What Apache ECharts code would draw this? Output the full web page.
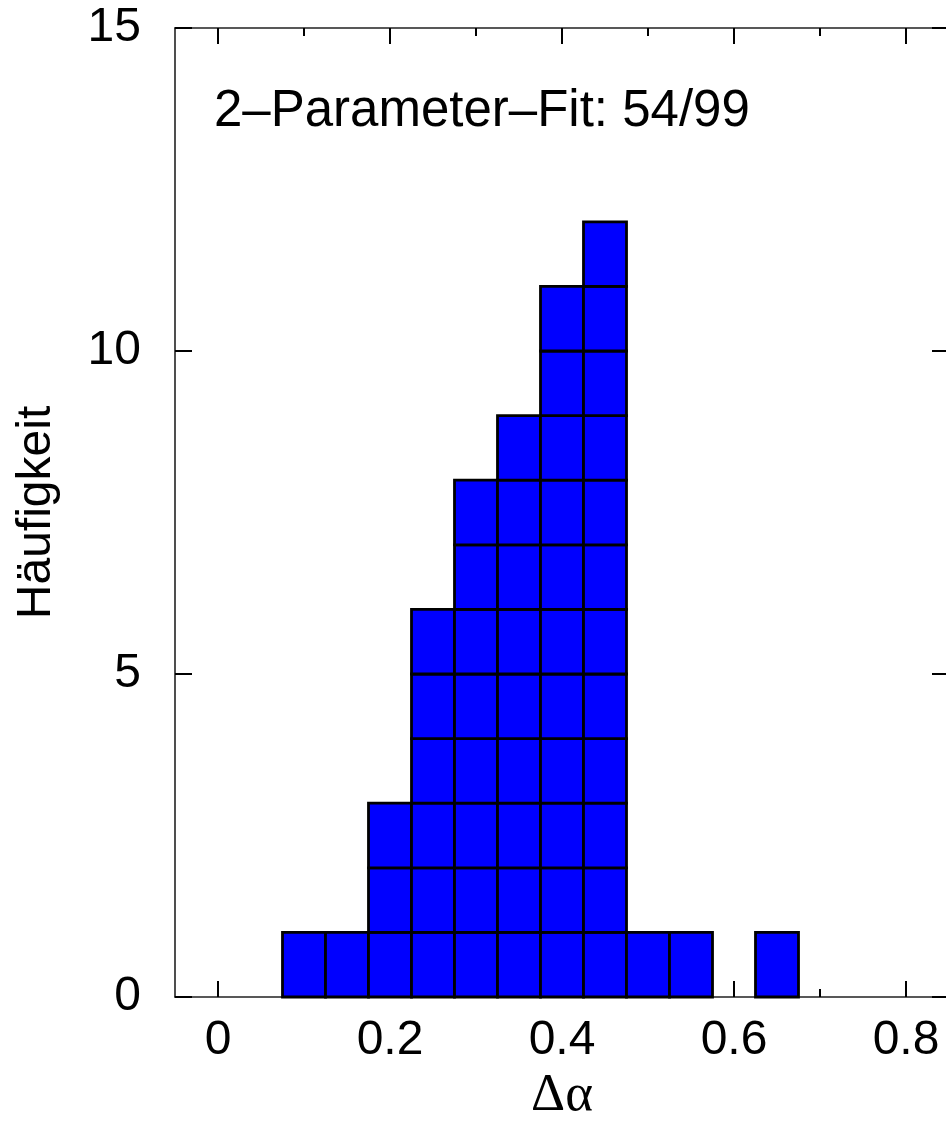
<!DOCTYPE html>
<html>
<head>
<meta charset="utf-8">
<title>Häufigkeit Δα</title>
<script src="https://cdn.jsdelivr.net/npm/echarts@6/dist/echarts.min.js"></script>
<style>
    html, body { margin: 0; padding: 0; background: #fff; }
    #chart { width: 946px; height: 1125px; }
</style>
</head>
<body>
<div id="chart"></div>
<script>
    // Histogramm der Δα-Werte, 2-Parameter-Fit
    var binCenters = [0.10, 0.15, 0.20, 0.25, 0.30, 0.35, 0.40, 0.45, 0.50, 0.55, 0.60, 0.65];
    var counts = [1, 1, 3, 6, 8, 9, 11, 12, 1, 1, 0, 1];
    var binWidth = 0.05;
    var xMajorTicks = [0, 0.2, 0.4, 0.6, 0.8];
    var xMinorTicks = [0.1, 0.3, 0.5, 0.7];
    var fitText = '2–Parameter–Fit: 54/99';

    var sans = '"Liberation Sans", Helvetica, Arial, sans-serif';
    var serif = '"Liberation Serif", "Times New Roman", serif';

    var chart = echarts.init(document.getElementById('chart'));

    // rechter Rahmen liegt knapp ausserhalb des Bildes
    var gridBox = {left: 175, top: 28, width: 774, height: 969, outerBoundsMode: 'none', containLabel: false};
    var lineStyle = {color: '#222', width: 1.6};
    var tickStyle = {color: '#000', width: 2};

    // zwei identische grids: eins fuer die grossen, eins fuer die kleinen x-Ticks
    function xAxisFor(grid, pos, ticks, len, extra) {
        var ax = {
            type: 'value',
            gridIndex: grid,
            position: pos,
            min: -0.05,
            max: 0.85,
            splitLine: {show: false},
            axisLine: {show: grid === 0, onZero: false, lineStyle: lineStyle},
            axisTick: {show: true, inside: true, length: len, lineStyle: tickStyle, customValues: ticks},
            axisLabel: {show: false}
        };
        return Object.assign(ax, extra || {});
    }

    var data = binCenters.map(function (c, i) { return [c, counts[i]]; });

    var option = {
        backgroundColor: '#fff',
        animation: false,
        title: {
            text: fitText,
            left: 214,
            top: 86,
            padding: 0,
            textStyle: {fontFamily: sans, fontSize: 51, fontWeight: 'normal', color: '#000'}
        },
        grid: [
            Object.assign({}, gridBox),
            Object.assign({}, gridBox)
        ],
        xAxis: [
            xAxisFor(0, 'bottom', xMajorTicks, 16, {
                name: 'Δα',
                nameLocation: 'middle',
                nameGap: 70,
                nameTextStyle: {fontFamily: serif, fontSize: 53, color: '#000'},
                axisLabel: {
                    show: true,
                    margin: 20,
                    customValues: xMajorTicks,
                    fontFamily: sans,
                    fontSize: 48,
                    color: '#000'
                }
            }),
            xAxisFor(0, 'top', xMajorTicks, 16),
            xAxisFor(1, 'bottom', xMinorTicks, 8),
            xAxisFor(1, 'top', xMinorTicks, 8)
        ],
        yAxis: [
            {
                type: 'value',
                gridIndex: 0,
                position: 'left',
                min: 0,
                max: 15,
                interval: 5,
                name: 'Häufigkeit',
                nameLocation: 'middle',
                nameRotate: 90,
                nameGap: 114,
                nameTextStyle: {fontFamily: sans, fontSize: 48, color: '#000'},
                splitLine: {show: false},
                axisLine: {show: true, onZero: false, lineStyle: lineStyle},
                axisTick: {show: true, inside: true, length: 17, lineStyle: tickStyle},
                axisLabel: {margin: 34, fontFamily: sans, fontSize: 48, color: '#000'}
            },
            {
                type: 'value',
                gridIndex: 0,
                position: 'right',
                min: 0,
                max: 15,
                interval: 5,
                splitLine: {show: false},
                axisLine: {show: true, onZero: false, lineStyle: lineStyle},
                axisTick: {show: true, inside: true, length: 17, lineStyle: tickStyle},
                axisLabel: {show: false}
            },
            {
                type: 'value',
                gridIndex: 1,
                min: 0,
                max: 15,
                show: false
            }
        ],
        series: [{
            type: 'custom',
            xAxisIndex: 0,
            yAxisIndex: 0,
            z: 5,
            data: data,
            encode: {x: 0, y: 1},
            renderItem: function (params, api) {
                var c = api.value(0);
                var n = api.value(1);
                var kids = [];
                // jede Zaehlung als eigenes Kaestchen
                for (var k = 0; k < n; k++) {
                    var p0 = api.coord([c - binWidth / 2, k + 1]);
                    var p1 = api.coord([c + binWidth / 2, k]);
                    kids.push({
                        type: 'rect',
                        shape: {x: p0[0], y: p0[1], width: p1[0] - p0[0], height: p1[1] - p0[1]},
                        style: {fill: '#0000ff', stroke: '#000', lineWidth: 2.8}
                    });
                }
                return {type: 'group', children: kids};
            }
        }]
    };

    chart.setOption(option);
</script>
</body>
</html>
